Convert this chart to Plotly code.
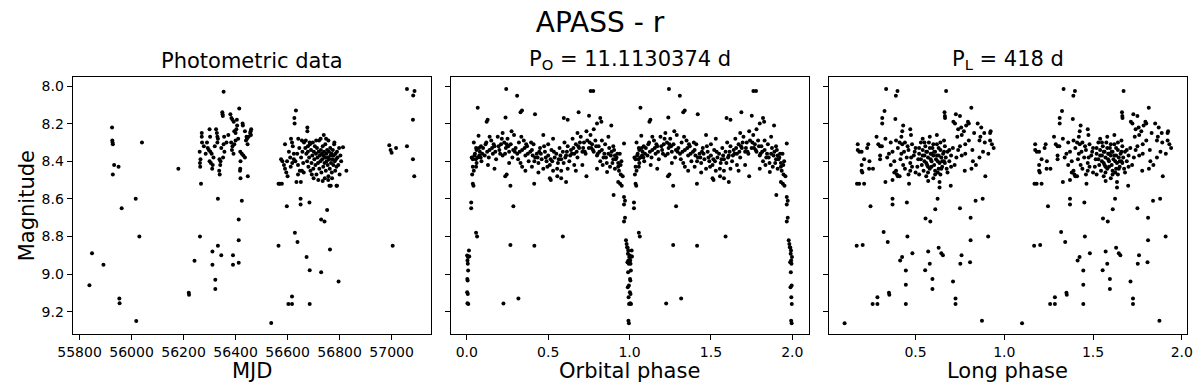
import plotly.graph_objects as go

FONT = "DejaVu Sans"

# ---- panel 1: photometric data (MJD, r magnitude) ----
mjd_sparse = [55838, 55848, 55892, 55925, 55926, 55927, 55928, 55933, 55950, 55928,
              55953, 55954, 55962, 56016, 56018, 56030, 56040, 56180, 56220, 56221,
              56242, 56263, 56267, 56311, 56311, 56322, 56322, 56332, 56345, 56390,
              56390, 56412, 56412, 56412, 56332, 56424, 56447, 56537, 56565, 56628,
              56638, 56673, 56685, 56729, 56763, 56796, 56603, 56617, 56617, 56685,
              56597, 56650, 56650, 56684, 56752, 56729, 56742, 57004, 56826, 56813]
mag_sparse = [9.06, 8.89, 8.95, 8.22, 8.29, 8.30, 8.31, 8.42, 8.43, 8.47,
              9.13, 9.155, 8.65, 8.60, 9.25, 8.80, 8.30, 8.44, 9.10, 9.11,
              8.93, 8.80, 8.52, 8.88, 8.95, 9.03, 9.08, 8.85, 8.90, 8.90,
              8.95, 8.94, 8.82, 8.71, 8.60, 8.61, 8.48, 9.26, 8.85, 8.78,
              8.83, 8.91, 8.98, 8.99, 8.87, 9.04, 9.16, 9.16, 9.12, 9.16,
              8.64, 8.60, 8.63, 8.62, 8.66, 8.71, 8.72, 8.85, 8.45, 8.325]

mjd_2013 = [56354, 56414, 56349, 56350, 56351, 56380, 56384, 56388, 56393, 56405,
            56406, 56403, 56400, 56428, 56460, 56456, 56450, 56444, 56440, 56427,
            56436, 56442, 56446, 56458, 56459, 56325, 56328, 56330, 56332, 56330,
            56300, 56302, 56270, 56270, 56271, 56262, 56265, 56263, 56264, 56293,
            56297, 56303, 56308, 56315, 56300, 56305, 56312, 56310, 56338, 56342,
            56341, 56337, 56339, 56356, 56354, 56357, 56352, 56383, 56388, 56386,
            56395, 56400, 56392, 56418, 56424, 56430, 56436, 56419, 56418, 56417,
            56419, 56278, 56285, 56290, 56320, 56345, 56365, 56372, 56410, 56395]
mag_2013 = [8.03, 8.12, 8.14, 8.15, 8.16, 8.15, 8.17, 8.18, 8.19, 8.18,
            8.21, 8.23, 8.25, 8.21, 8.23, 8.25, 8.27, 8.28, 8.29, 8.20,
            8.24, 8.27, 8.31, 8.24, 8.26, 8.23, 8.25, 8.27, 8.28, 8.30,
            8.23, 8.27, 8.25, 8.27, 8.30, 8.35, 8.39, 8.41, 8.43, 8.33,
            8.34, 8.35, 8.36, 8.38, 8.40, 8.41, 8.42, 8.44, 8.39, 8.40,
            8.42, 8.45, 8.47, 8.27, 8.31, 8.35, 8.38, 8.30, 8.32, 8.34,
            8.31, 8.29, 8.36, 8.35, 8.36, 8.37, 8.38, 8.40, 8.44, 8.45,
            8.49, 8.32, 8.36, 8.30, 8.32, 8.33, 8.30, 8.26, 8.28, 8.24]

mjd_2014 = [56632, 56626, 56627, 56676, 56676, 56590, 56613, 56617, 56620, 56641,
            56670, 56685, 56678, 56739, 56748, 56790, 56761, 56735, 56575, 56580,
            56586, 56590, 56595, 56598, 56624, 56624, 56565, 56570, 56578, 56647,
            56655, 56662, 56651, 56634, 56766, 56788, 56605, 56610, 56612, 56630,
            56637, 56640, 56645, 56652, 56657, 56660, 56663, 56640, 56618, 56655,
            56600, 56668, 56672, 56675, 56678, 56680, 56683, 56686, 56688, 56690,
            56692, 56695, 56697, 56699, 56701, 56703, 56705, 56707, 56709, 56711,
            56713, 56715, 56717, 56719, 56721, 56722, 56724, 56726, 56728, 56730,
            56731, 56733, 56735, 56737, 56738, 56740, 56742, 56744, 56745, 56747,
            56749, 56750, 56752, 56754, 56755, 56757, 56759, 56760, 56762, 56764,
            56765, 56767, 56769, 56770, 56772, 56774, 56776, 56777, 56779, 56781,
            56783, 56784, 56786, 56788, 56790, 56792, 56795, 56798, 56800, 56803,
            56806, 56700, 56718, 56743, 56756, 56771, 56727, 56757, 56780, 56710,
            56693]
mag_2014 = [8.13, 8.17, 8.20, 8.22, 8.24, 8.31, 8.28, 8.30, 8.32, 8.28,
            8.29, 8.30, 8.32, 8.26, 8.28, 8.53, 8.53, 8.505, 8.39, 8.40,
            8.42, 8.44, 8.46, 8.40, 8.36, 8.39, 8.52, 8.52, 8.52, 8.45,
            8.45, 8.46, 8.51, 8.51, 8.53, 8.53, 8.35, 8.38, 8.43, 8.40,
            8.36, 8.42, 8.33, 8.38, 8.35, 8.41, 8.30, 8.47, 8.41, 8.29,
            8.48, 8.33, 8.36, 8.40, 8.35, 8.43, 8.38, 8.31, 8.45, 8.34,
            8.41, 8.37, 8.30, 8.44, 8.35, 8.39, 8.32, 8.42, 8.36, 8.47,
            8.33, 8.38, 8.41, 8.35, 8.29, 8.44, 8.37, 8.40, 8.34, 8.46,
            8.36, 8.39, 8.32, 8.43, 8.37, 8.35, 8.41, 8.38, 8.31, 8.45,
            8.36, 8.40, 8.34, 8.42, 8.38, 8.48, 8.35, 8.39, 8.44, 8.33,
            8.37, 8.41, 8.36, 8.46, 8.39, 8.34, 8.42, 8.37, 8.31, 8.40,
            8.45, 8.36, 8.39, 8.43, 8.35, 8.38, 8.42, 8.33, 8.47, 8.37,
            8.40, 8.49, 8.50, 8.49, 8.50, 8.49, 8.28, 8.29, 8.30, 8.29,
            8.47]

mjd_2015 = [56991, 56996, 57000, 57017, 57059, 57059, 57088, 57083, 57082, 57082, 57087]
mag_2015 = [8.315, 8.34, 8.355, 8.33, 8.32, 8.016, 8.027, 8.05, 8.18, 8.39, 8.48]

# ---- panel 2: orbital phase (P_O = 11.1130374 d), one cycle, shown twice ----
orb_phase = [0.242, 0.309, 0.067, 0.761, 0.777, 0.339, 0.330, 0.419, 0.128, 0.122,
             0.238, 0.596, 0.620, 0.687, 0.751, 0.800, 0.820, 0.827, 0.888, 0.966,
             0.072, 0.043, 0.057, 0.087, 0.030, 0.037, 0.047, 0.067, 0.077, 0.037,
             0.057, 0.043, 0.033, 0.037, 0.041, 0.027, 0.027, 0.057, 0.063, 0.013,
             0.007, 0.002, 0.004, 0.006, 0.008, 0.003, 0.005, 0.002, 0.006, 0.004,
             0.009, 0.015, 0.245, 0.236, 0.268, 0.286, 0.268, 0.415, 0.590, 0.414,
             0.735, 0.556, 0.580, 0.610, 0.510, 0.516, 0.670, 0.862, 0.930, 0.946,
             0.958, 0.930, 0.942, 0.952, 0.902, 0.966, 0.972, 0.966, 0.972, 0.966,
             0.978, 0.982, 0.988, 0.992, 0.998, 0.985, 0.990, 0.993, 0.987, 0.995,
             0.991, 0.996, 0.989, 0.994, 0.997, 0.993, 0.996, 0.905, 0.910, 0.225,
             0.317,
             0.05, 0.06, 0.08, 0.09, 0.10, 0.11, 0.12, 0.13, 0.14, 0.15,
             0.16, 0.17, 0.18, 0.19, 0.20, 0.21, 0.22, 0.23, 0.24, 0.25,
             0.26, 0.27, 0.28, 0.29, 0.30, 0.31, 0.32, 0.33, 0.34, 0.35,
             0.36, 0.37, 0.38, 0.39, 0.40, 0.41, 0.42, 0.43, 0.44, 0.45,
             0.46, 0.47, 0.48, 0.49, 0.50, 0.51, 0.52, 0.53, 0.54, 0.55,
             0.56, 0.57, 0.58, 0.59, 0.60, 0.61, 0.62, 0.63, 0.64, 0.65,
             0.66, 0.67, 0.68, 0.69, 0.70, 0.71, 0.72, 0.73, 0.74, 0.75,
             0.76, 0.77, 0.78, 0.79, 0.80, 0.81, 0.82, 0.83, 0.84, 0.85,
             0.86, 0.87, 0.88, 0.89, 0.90, 0.91, 0.92, 0.93, 0.94, 0.95,
             0.055, 0.075, 0.095, 0.115, 0.135, 0.155, 0.175, 0.195, 0.215, 0.235,
             0.255, 0.275, 0.295, 0.315, 0.335, 0.355, 0.375, 0.395, 0.415, 0.435,
             0.455, 0.475, 0.495, 0.515, 0.535, 0.555, 0.575, 0.595, 0.615, 0.635,
             0.655, 0.675, 0.695, 0.715, 0.735, 0.755, 0.775, 0.795, 0.815, 0.835,
             0.855, 0.875, 0.895, 0.915, 0.935, 0.945, 0.06, 0.17, 0.26, 0.36,
             0.44, 0.62, 0.71, 0.80, 0.22, 0.47, 0.53, 0.68, 0.78, 0.87,
             0.085, 0.125, 0.165, 0.205, 0.245, 0.285, 0.325, 0.365, 0.405, 0.445,
             0.485, 0.525, 0.565, 0.605, 0.645, 0.685, 0.725, 0.765, 0.805, 0.845,
             0.885, 0.925, 0.14, 0.34, 0.50, 0.66, 0.83, 0.90, 0.58, 0.40]
orb_mag = [8.016, 8.052, 8.116, 8.027, 8.027, 8.13, 8.14, 8.15, 8.18, 8.19,
           8.167, 8.17, 8.18, 8.14, 8.158, 8.20, 8.17, 8.19, 8.21, 8.306,
           8.265, 8.30, 8.33, 8.32, 8.38, 8.39, 8.37, 8.38, 8.37, 8.43,
           8.43, 8.45, 8.47, 8.52, 8.53, 8.62, 8.65, 8.78, 8.80, 8.875,
           8.91, 8.901, 8.928, 8.946, 8.981, 9.026, 9.035, 9.097, 9.106, 9.156,
           9.159, 8.907, 8.47, 8.48, 8.53, 8.64, 8.845, 8.85, 8.80, 8.52,
           8.48, 8.48, 8.49, 8.51, 8.49, 8.50, 8.45, 8.457, 8.43, 8.47,
           8.48, 8.51, 8.52, 8.53, 8.58, 8.59, 8.61, 8.63, 8.70, 8.72,
           8.82, 8.84, 8.86, 8.875, 8.91, 8.857, 8.892, 8.928, 8.937, 8.946,
           8.99, 9.061, 9.07, 9.124, 9.159, 9.248, 9.262, 8.34, 8.37, 9.157,
           9.13,
           8.36, 8.41, 8.35, 8.40, 8.33, 8.37, 8.30, 8.42, 8.34, 8.29,
           8.36, 8.32, 8.39, 8.27, 8.34, 8.31, 8.37, 8.30, 8.33, 8.28,
           8.35, 8.31, 8.38, 8.26, 8.33, 8.36, 8.30, 8.41, 8.34, 8.29,
           8.37, 8.32, 8.40, 8.35, 8.43, 8.31, 8.38, 8.36, 8.41, 8.33,
           8.39, 8.44, 8.35, 8.40, 8.37, 8.42, 8.34, 8.45, 8.38, 8.36,
           8.41, 8.33, 8.39, 8.35, 8.30, 8.37, 8.32, 8.40, 8.34, 8.28,
           8.36, 8.31, 8.38, 8.33, 8.27, 8.35, 8.30, 8.36, 8.29, 8.33,
           8.26, 8.31, 8.35, 8.29, 8.37, 8.32, 8.40, 8.34, 8.38, 8.31,
           8.41, 8.36, 8.43, 8.35, 8.39, 8.44, 8.38, 8.41, 8.36, 8.40,
           8.39, 8.33, 8.36, 8.31, 8.38, 8.33, 8.35, 8.32, 8.28, 8.36,
           8.32, 8.24, 8.35, 8.39, 8.27, 8.33, 8.36, 8.30, 8.40, 8.38,
           8.36, 8.32, 8.43, 8.39, 8.35, 8.44, 8.37, 8.41, 8.35, 8.37,
           8.33, 8.35, 8.30, 8.33, 8.24, 8.30, 8.34, 8.32, 8.35, 8.42,
           8.38, 8.33, 8.41, 8.39, 8.45, 8.42, 8.34, 8.44, 8.41, 8.45,
           8.46, 8.44, 8.42, 8.44, 8.25, 8.26, 8.28, 8.25, 8.23, 8.27,
           8.38, 8.35, 8.31, 8.36, 8.31, 8.34, 8.35, 8.31, 8.37, 8.35,
           8.38, 8.40, 8.39, 8.38, 8.36, 8.32, 8.35, 8.33, 8.36, 8.36,
           8.37, 8.36, 8.27, 8.43, 8.31, 8.42, 8.29, 8.32, 8.45, 8.34]

# ---- panel 3: long phase (P_L = 418 d), one cycle, shown twice ----
long_phase = [0.334, 0.398, 0.389, 0.672, 0.325, 0.814, 0.312, 0.312, 0.386, 0.663,
              0.665, 0.666, 0.727, 0.750, 0.713, 0.722, 0.740, 0.757, 0.772, 0.785,
              0.795, 0.800, 0.760, 0.735, 0.850, 0.887, 0.865, 0.860, 0.923, 0.920,
              0.930, 0.880, 0.430, 0.425, 0.470, 0.474, 0.390, 0.410, 0.425, 0.280,
              0.290, 0.300, 0.310, 0.330, 0.174, 0.174, 0.183, 0.196, 0.233, 0.227,
              0.210, 0.240, 0.196, 0.196, 0.200, 0.238, 0.260, 0.300, 0.300, 0.350,
              0.170, 0.182, 0.210, 0.330, 0.370, 0.380, 0.390, 0.395, 0.400, 0.410,
              0.463, 0.370, 0.370, 0.451, 0.246, 0.571, 0.624, 0.611, 0.556, 0.583,
              0.635, 0.635, 0.698, 0.750, 0.777, 0.815, 0.823, 0.838, 0.878, 0.893,
              0.810, 0.909, 0.810, 0.320, 0.343, 0.454, 0.168, 0.202, 0.482, 0.571,
              0.630, 0.645, 0.654, 0.759, 0.424, 0.100, 0.258, 0.285, 0.285, 0.350,
              0.352, 0.413, 0.445, 0.445, 0.445, 0.554, 0.580, 0.595, 0.595, 0.711,
              0.725, 0.725, 0.752, 0.807, 0.874,
              0.40, 0.42, 0.44, 0.45, 0.46, 0.47, 0.48, 0.49, 0.50, 0.51,
              0.52, 0.53, 0.53, 0.54, 0.545, 0.55, 0.555, 0.56, 0.565, 0.57,
              0.575, 0.58, 0.585, 0.59, 0.595, 0.60, 0.605, 0.61, 0.615, 0.62,
              0.625, 0.63, 0.635, 0.64, 0.645, 0.65, 0.655, 0.66, 0.665, 0.67,
              0.675, 0.68, 0.69, 0.70, 0.71, 0.72, 0.54, 0.58, 0.62, 0.66,
              0.52, 0.56, 0.60, 0.64, 0.68, 0.57, 0.61, 0.63, 0.59, 0.55,
              0.565, 0.585, 0.605, 0.625, 0.645, 0.665, 0.535, 0.515, 0.495, 0.475,
              0.455, 0.435, 0.415, 0.43, 0.47, 0.50, 0.60, 0.64, 0.69, 0.70,
              0.73, 0.74, 0.76, 0.78, 0.52, 0.56, 0.58, 0.62, 0.66, 0.57,
              0.61, 0.59, 0.63, 0.55, 0.65, 0.54, 0.36, 0.37, 0.38, 0.34,
              0.42, 0.44, 0.46, 0.48, 0.36, 0.75, 0.78, 0.82, 0.84, 0.86,
              0.89, 0.91, 0.94, 0.80, 0.83, 0.87, 0.92]
long_mag = [8.016, 8.027, 8.052, 8.027, 8.133, 8.116, 8.17, 8.20, 8.176, 8.14,
            8.16, 8.17, 8.15, 8.16, 8.19, 8.20, 8.23, 8.22, 8.24, 8.21,
            8.19, 8.20, 8.26, 8.27, 8.20, 8.25, 8.27, 8.29, 8.24, 8.25,
            8.31, 8.35, 8.21, 8.24, 8.23, 8.26, 8.29, 8.30, 8.31, 8.27,
            8.31, 8.32, 8.32, 8.28, 8.31, 8.34, 8.35, 8.35, 8.31, 8.33,
            8.39, 8.40, 8.42, 8.45, 8.46, 8.44, 8.44, 8.37, 8.39, 8.36,
            8.52, 8.52, 8.52, 8.51, 8.50, 8.46, 8.45, 8.47, 8.48, 8.48,
            8.52, 8.60, 8.63, 8.62, 8.64, 8.505, 8.60, 8.656, 8.705, 8.72,
            8.51, 8.54, 8.53, 8.65, 8.45, 8.44, 8.40, 8.61, 8.60, 8.48,
            8.70, 8.80, 8.82, 8.777, 8.83, 8.80, 8.85, 8.845, 8.89, 8.88,
            8.86, 8.89, 8.90, 8.90, 8.91, 9.262, 9.159, 9.159, 9.124, 9.10,
            9.11, 8.928, 8.981, 9.057, 9.159, 8.98, 8.946, 9.026, 9.08, 9.04,
            9.13, 9.16, 8.946, 8.937, 9.248,
            8.33, 8.36, 8.30, 8.38, 8.34, 8.41, 8.31, 8.37, 8.33, 8.43,
            8.36, 8.30, 8.39, 8.34, 8.45, 8.37, 8.32, 8.41, 8.35, 8.38,
            8.30, 8.44, 8.36, 8.40, 8.33, 8.37, 8.42, 8.35, 8.39, 8.31,
            8.46, 8.37, 8.41, 8.34, 8.38, 8.43, 8.36, 8.40, 8.32, 8.38,
            8.44, 8.35, 8.40, 8.37, 8.33, 8.42, 8.28, 8.27, 8.26, 8.29,
            8.47, 8.48, 8.49, 8.47, 8.46, 8.43, 8.45, 8.33, 8.36, 8.40,
            8.42, 8.39, 8.35, 8.40, 8.44, 8.41, 8.42, 8.39, 8.35, 8.38,
            8.32, 8.35, 8.39, 8.42, 8.45, 8.46, 8.31, 8.30, 8.34, 8.43,
            8.38, 8.34, 8.37, 8.31, 8.33, 8.35, 8.33, 8.37, 8.35, 8.46,
            8.47, 8.43, 8.44, 8.30, 8.40, 8.37, 8.30, 8.35, 8.40, 8.38,
            8.27, 8.44, 8.47, 8.43, 8.42, 8.32, 8.36, 8.34, 8.42, 8.38,
            8.30, 8.36, 8.33, 8.29, 8.25, 8.22, 8.29]

mjd_all = mjd_sparse + mjd_2013 + mjd_2014 + mjd_2015
mag_all = mag_sparse + mag_2013 + mag_2014 + mag_2015

fig = go.Figure()

def dots(x, y, n):
    return go.Scatter(x=x, y=y, mode="markers", showlegend=False, hoverinfo="skip",
                      marker=dict(color="black", size=4, line=dict(width=0)),
                      xaxis="x" + n, yaxis="y" + n)

fig.add_trace(dots(mjd_all, mag_all, ""))
fig.add_trace(dots(orb_phase + [p + 1 for p in orb_phase], orb_mag + orb_mag, "2"))
fig.add_trace(dots(long_phase + [p + 1 for p in long_phase], long_mag + long_mag, "3"))

axis_style = dict(showline=True, linecolor="black", linewidth=1, mirror=True,
                  ticks="outside", ticklen=5, tickwidth=1, tickcolor="black",
                  showgrid=False, zeroline=False,
                  tickfont=dict(family=FONT, size=14, color="black"))

W, H = 1200, 385
y_top, y_bot = 77, 334
ydom = [1 - y_bot / H, 1 - y_top / H]
yrange = [9.319, 7.952]
ytick = [8.0, 8.2, 8.4, 8.6, 8.8, 9.0, 9.2]

doms = [(58.7, 423.3), (443.3, 807.7), (828.3, 1192.8)]

fig.update_layout(
    width=W, height=H,
    margin=dict(l=0, r=0, t=0, b=0),
    plot_bgcolor="white", paper_bgcolor="white",
    title=dict(text="APASS - r", x=0.5, xanchor="center", y=1 - 22 / H, yanchor="middle",
               font=dict(family=FONT, size=28, color="black")),
    xaxis=dict(axis_style, domain=[doms[0][0] / W, doms[0][1] / W], anchor="y",
               range=[55773.6, 57151], tickvals=[55800, 56000, 56200, 56400, 56600, 56800, 57000],
               tickformat="d"),
    xaxis2=dict(axis_style, domain=[doms[1][0] / W, doms[1][1] / W], anchor="y2",
                range=[-0.1, 2.1], tickvals=[0, 0.5, 1.0, 1.5, 2.0], tickformat=".1f"),
    xaxis3=dict(axis_style, domain=[doms[2][0] / W, doms[2][1] / W], anchor="y3",
                range=[0.011, 2.029], tickvals=[0.5, 1.0, 1.5, 2.0], tickformat=".1f"),
    yaxis=dict(axis_style, domain=ydom, anchor="x", range=yrange, tickvals=ytick, tickformat=".1f"),
    yaxis2=dict(axis_style, domain=ydom, anchor="x2", range=yrange, tickvals=ytick, showticklabels=False),
    yaxis3=dict(axis_style, domain=ydom, anchor="x3", range=yrange, tickvals=ytick, showticklabels=False),
)

titles = ["Photometric data", "P<sub>O</sub> = 11.1130374 d", "P<sub>L</sub> = 418 d"]
xlabels = ["MJD", "Orbital phase", "Long phase"]
for (a, b), t, xl in zip(doms, titles, xlabels):
    cx = (a + b) / 2 / W
    fig.add_annotation(text=t, x=cx, y=1 - 75 / H, xref="paper", yref="paper",
                       xanchor="center", yanchor="bottom", showarrow=False,
                       font=dict(family=FONT, size=21, color="black"))
    fig.add_annotation(text=xl, x=cx, y=1 - 371 / H, xref="paper", yref="paper",
                       xanchor="center", yanchor="middle", showarrow=False,
                       font=dict(family=FONT, size=21, color="black"))

fig.add_annotation(text="Magnitude", x=12 / W, y=1 - 205.5 / H, xref="paper", yref="paper",
                   xanchor="center", yanchor="middle", textangle=-90, showarrow=False,
                   font=dict(family=FONT, size=21, color="black"))

# the page body has a default 8px margin; drop it so the figure fills the window
fig.write_html("out.html", config={"displayModeBar": False},
               post_script="document.body.style.margin = '0';")
